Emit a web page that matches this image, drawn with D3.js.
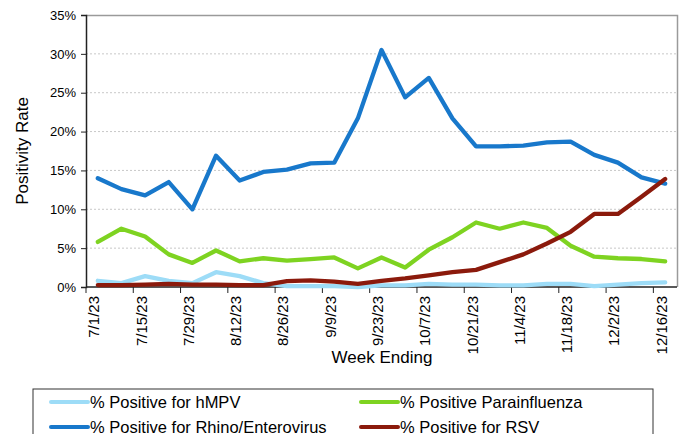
<!DOCTYPE html>
<html><head><meta charset="utf-8">
<script src="https://cdn.jsdelivr.net/npm/d3@7"></script>
<style>
body{margin:0;background:#fff;}
text{font-family:"Liberation Sans",Arial,sans-serif;fill:#000;}
</style></head>
<body><svg id="c" width="682" height="434"></svg>
<script>
const weeks = ["7/1/23","7/8/23","7/15/23","7/22/23","7/29/23","8/5/23","8/12/23","8/19/23","8/26/23","9/2/23","9/9/23","9/16/23","9/23/23","9/30/23","10/7/23","10/14/23","10/21/23","10/28/23","11/4/23","11/11/23","11/18/23","11/25/23","12/2/23","12/9/23","12/16/23"];
const hmpv = [0.8,0.5,1.4,0.8,0.5,1.9,1.4,0.5,0.1,0.1,0.1,0.0,0.2,0.2,0.4,0.3,0.3,0.2,0.2,0.4,0.4,0.1,0.3,0.5,0.6];
const para = [5.8,7.5,6.5,4.2,3.1,4.7,3.3,3.7,3.4,3.6,3.8,2.4,3.8,2.5,4.8,6.4,8.3,7.5,8.3,7.6,5.3,3.9,3.7,3.6,3.3];
const rhino = [14.0,12.6,11.8,13.5,10.0,16.9,13.7,14.8,15.1,15.9,16.0,21.7,30.5,24.4,26.9,21.7,18.1,18.1,18.2,18.6,18.7,17.0,16.0,14.1,13.3];
const rsv = [0.25,0.25,0.3,0.4,0.3,0.3,0.25,0.25,0.75,0.85,0.7,0.4,0.8,1.1,1.5,1.9,2.2,3.2,4.2,5.6,7.1,9.4,9.4,11.6,13.9];
const yTicks = [0,5,10,15,20,25,30,35];
const seriesNames = ["% Positive for hMPV","% Positive Parainfluenza","% Positive for Rhino/Enterovirus","% Positive for RSV"];
const colors = ["#9ddcf7","#7ed321","#1878cb","#8b1a0c"];

const svg = d3.select("#c");
const L=86, R=677, T=15, B=287;
const x = d3.scaleBand().domain(weeks).range([L,R]).padding(0);
const y = d3.scaleLinear().domain([0,35]).range([B,T]);

// gridlines
svg.append("g").selectAll("line").data(yTicks.filter(d=>d>0&&d<35)).join("line")
  .attr("x1",L).attr("x2",R).attr("y1",d=>y(d)).attr("y2",d=>y(d))
  .attr("stroke","#c8c8c8").attr("stroke-width",1).attr("stroke-dasharray","2,2");
// top/right border
svg.append("path").attr("d",`M${L},${T+0.5}H${R+0.5}V${B}`).attr("fill","none").attr("stroke","#9a9a9a").attr("stroke-width",1.5);

// y axis
const ya = svg.append("g").attr("transform",`translate(${L},0)`)
  .call(d3.axisLeft(y).tickValues(yTicks).tickFormat(d=>d+"%").tickSize(5).tickPadding(5));
ya.select(".domain").attr("stroke","#222").attr("stroke-width",1.5);
ya.selectAll(".tick line").attr("stroke","#222");
ya.selectAll("text").attr("font-size","13px").style("font-family","Liberation Sans, Arial").attr("fill","#222");

// x axis
const xa = svg.append("g").attr("transform",`translate(0,${B})`);
xa.append("line").attr("x1",L).attr("x2",R).attr("y1",0).attr("y2",0).attr("stroke","#222").attr("stroke-width",1.5);
const tickIdx = weeks.map((d,i)=>i).filter(i=>i%2===0);
xa.selectAll("line.t").data(tickIdx).join("line").attr("class","t")
  .attr("x1",i=>x(weeks[i])).attr("x2",i=>x(weeks[i])).attr("y1",0).attr("y2",6).attr("stroke","#222");
xa.selectAll("text").data(tickIdx).join("text")
  .attr("transform",i=>`translate(${x(weeks[i])+x.bandwidth()/2+1.5},9) rotate(-90)`)
  .attr("text-anchor","end").attr("font-size","15px").attr("fill","#222")
  .text(i=>weeks[i]);

// axis titles
svg.append("text").attr("transform",`translate(28,${(T+B)/2}) rotate(-90)`).attr("text-anchor","middle")
  .attr("font-size","17px").text("Positivity Rate");
svg.append("text").attr("x",382).attr("y",363).attr("text-anchor","middle")
  .attr("font-size","17px").text("Week Ending");

// lines
const allSeries = [hmpv,para,rhino,rsv];
const line = d3.line().x((d,i)=>x(weeks[i])+x.bandwidth()/2).y(d=>y(d));
allSeries.forEach((s,k)=>{
  svg.append("path").datum(s).attr("d",line).attr("fill","none")
    .attr("stroke",colors[k]).attr("stroke-width",4.3).attr("stroke-linejoin","round").attr("stroke-linecap","round");
});

// legend
svg.append("rect").attr("x",33).attr("y",389).attr("width",620).attr("height",60)
  .attr("fill","#fff").attr("stroke","#333").attr("stroke-width",1);
const legPos = [[51,402],[361,402],[51,427],[361,427]];
seriesNames.forEach((n,k)=>{
  const [lx,ly]=legPos[k];
  svg.append("line").attr("x1",lx).attr("x2",lx+37).attr("y1",ly).attr("y2",ly)
    .attr("stroke",colors[k]).attr("stroke-width",4).attr("stroke-linecap","round");
  svg.append("text").attr("x",lx+39).attr("y",ly+6).attr("font-size","16.5px").text(n);
});
</script></body></html>
